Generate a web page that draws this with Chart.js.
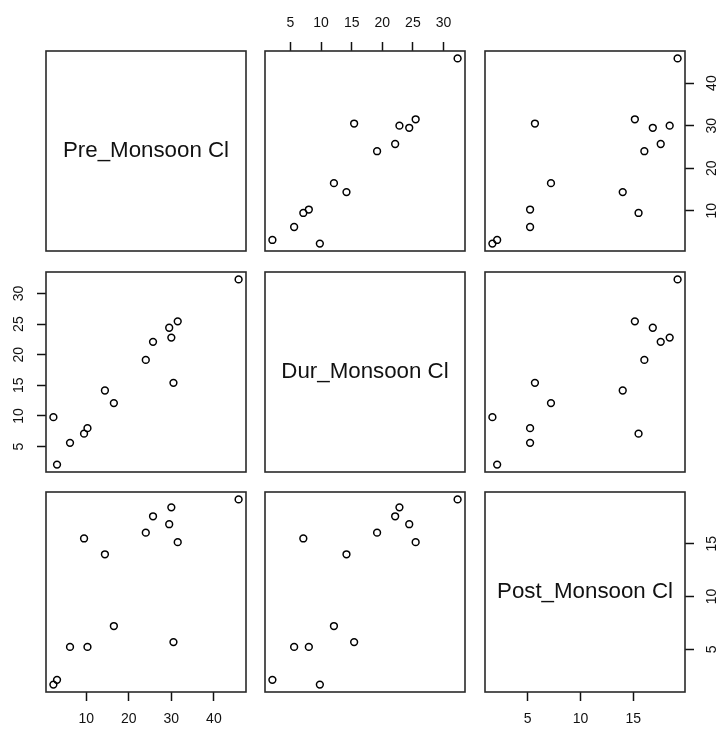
<!DOCTYPE html>
<html>
<head>
<meta charset="utf-8">
<script src="https://cdn.jsdelivr.net/npm/chart.js@4.4.0/dist/chart.umd.min.js"></script>
<style>
  html, body { margin: 0; padding: 0; background: #fff; width: 721px; height: 729px; overflow: hidden; position: relative; }
  canvas { position: absolute; }
</style>
</head>
<body>
<script>
// Chloride readings per sampling site, one array per season
const variables   = ['Pre_Monsoon Cl', 'Dur_Monsoon Cl', 'Post_Monsoon Cl'];
const preMonsoon  = [2.3, 3.15, 6.2, 9.5, 10.3, 14.4, 16.5, 24.0, 25.7, 29.5, 30.0, 31.5, 30.5, 45.8];
const durMonsoon  = [9.8, 2.05, 5.6, 7.1, 8.0, 14.15, 12.1, 19.15, 22.1, 24.4, 22.8, 25.45, 15.4, 32.3];
const postMonsoon = [1.65, 2.1, 5.22, 15.5, 5.22, 14.0, 7.2, 16.05, 17.6, 16.85, 18.45, 15.15, 5.68, 19.2];

// Axis tick values for each variable
const preTicks  = [10, 20, 30, 40];
const durTicks  = [5, 10, 15, 20, 25, 30];
const postTicks = [5, 10, 15];

const series   = [preMonsoon, durMonsoon, postMonsoon];
const tickSets = [preTicks, durTicks, postTicks];

const FONT = "'Liberation Sans', Arial, sans-serif";
const PANEL = 200;
const MARGIN = 45;
const colLeft = [46, 265, 485];
const rowTop  = [51, 272, 492];

// data range widened by 4% on each side
function range(v) {
  const lo = Math.min(...v), hi = Math.max(...v), pad = (hi - lo) * 0.04;
  return [lo - pad, hi + pad];
}

function makeScale(horizontal, position, shown, idx) {
  const [min, max] = range(series[idx]);
  return {
    type: 'linear',
    position,
    display: shown,
    min, max,
    afterBuildTicks(s) { s.ticks = tickSets[idx].map(value => ({ value })); },
    afterFit(s) {
      if (!shown) return;
      if (horizontal) s.height = MARGIN; else s.width = MARGIN;
    },
    grid: { display: true, drawOnChartArea: false, drawTicks: true, tickLength: 9, tickWidth: 1.5, tickColor: '#111' },
    border: { display: false },
    ticks: {
      color: '#111',
      font: { family: FONT, size: 14 },
      padding: 10,
      autoSkip: false,
      minRotation: horizontal ? 0 : 90,
      maxRotation: horizontal ? 0 : 90,
      crossAlign: horizontal ? 'near' : 'center'
    }
  };
}

// frame around each panel, plus the variable name on the diagonal
const panelFrame = {
  id: 'panelFrame',
  afterDraw(chart, args, opts) {
    const { left, top, right, bottom } = chart.chartArea;
    const ctx = chart.ctx;
    ctx.save();
    ctx.strokeStyle = '#2a2a2a';
    ctx.lineWidth = 1.6;
    ctx.strokeRect(left, top, right - left, bottom - top);
    if (opts.label) {
      ctx.fillStyle = '#111';
      ctx.font = '22.3px ' + FONT;
      ctx.textAlign = 'center';
      ctx.textBaseline = 'middle';
      ctx.fillText(opts.label, (left + right) / 2, (top + bottom) / 2);
    }
    ctx.restore();
  }
};

for (let r = 0; r < 3; r++) {
  for (let c = 0; c < 3; c++) {
    const xTop    = r === 0 && c % 2 === 1;
    const xBottom = r === 2 && c % 2 === 0;
    const yLeft   = c === 0 && r % 2 === 1;
    const yRight  = c === 2 && r % 2 === 0;

    const canvas = document.createElement('canvas');
    canvas.width = PANEL + 2 * MARGIN;
    canvas.height = PANEL + 2 * MARGIN;
    canvas.style.left = (colLeft[c] - MARGIN) + 'px';
    canvas.style.top = (rowTop[r] - MARGIN) + 'px';
    document.body.appendChild(canvas);

    const diagonal = r === c;
    const datasets = diagonal ? [] : [{
      data: series[c].map((x, i) => ({ x, y: series[r][i] })),
      pointStyle: 'circle',
      pointRadius: 3.4,
      pointHoverRadius: 3.4,
      pointBorderWidth: 1.5,
      borderColor: '#000',
      pointBorderColor: '#000',
      backgroundColor: 'rgba(0,0,0,0)',
      pointBackgroundColor: 'rgba(0,0,0,0)',
      showLine: false,
      clip: false
    }];

    new Chart(canvas, {
      type: 'scatter',
      data: { datasets },
      options: {
        responsive: false,
        animation: false,
        devicePixelRatio: 1,
        layout: {
          padding: {
            top: xTop ? 0 : MARGIN,
            bottom: xBottom ? 0 : MARGIN,
            left: yLeft ? 0 : MARGIN,
            right: yRight ? 0 : MARGIN
          }
        },
        scales: {
          x: makeScale(true, xTop ? 'top' : 'bottom', xTop || xBottom, c),
          y: makeScale(false, yLeft ? 'left' : 'right', yLeft || yRight, r)
        },
        plugins: {
          legend: { display: false },
          tooltip: { enabled: false },
          panelFrame: { label: diagonal ? variables[r] : null }
        }
      },
      plugins: [panelFrame]
    });
  }
}
</script>
</body>
</html>
